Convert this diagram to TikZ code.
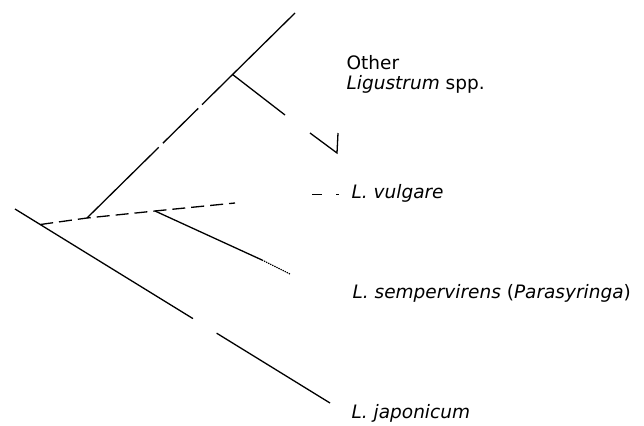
\documentclass[tikz,border=0pt]{standalone}
\usepackage{fontspec}
\setmainfont{DejaVu Sans}
\usetikzlibrary{calc}

\begin{document}
\begin{tikzpicture}[x=1pt,y=-1pt,line width=1.3pt,
    taxon/.style={anchor=west,inner sep=0pt,font=\fontsize{18.5}{21}\selectfont}]
  \useasboundingbox (0,0) rectangle (644,425);
  % branch points
  \coordinate (root) at (15,209);
  \coordinate (japend) at (330,403);
  \coordinate (rj) at ($(root)!0.08!(japend)$);
  \coordinate (A) at (87,218);
  \coordinate (B) at (155,211);
  \coordinate (top) at (295,13);
  \coordinate (lig) at ($(A)!0.70!(top)$);
  % stem to L. japonicum (broken in the middle)
  \draw (root) -- ($(root)!0.565!(japend)$);
  \draw ($(root)!0.64!(japend)$) -- (japend);
  % dashed stem
  \draw[dash pattern=on 13pt off 6pt] (rj) -- (A) -- (B) -- (235,203);
  % clade of other Ligustrum
  \draw (A) -- ($(A)!0.345!(top)$);
  \draw ($(A)!0.365!(top)$) -- ($(A)!0.535!(top)$);
  \draw ($(A)!0.553!(top)$) -- (top);
  \draw (lig) -- (285,115);
  \draw (310,133) -- (337,153) -- (338,133);
  % L. sempervirens
  \draw (B) -- (262,260);
  \draw[densely dotted] (262,260) -- (290,274);
  % labels
  \node[taxon] (other) at (346,63) {Other};
  \node[taxon] (ligu) at (346,84) {\textit{Ligustrum} spp.};
  \draw[line width=1pt,dash pattern=on 10pt off 14pt on 3pt off 20pt] (312,194) -- (340,194);
  \node[taxon] (vulg) at (351,193) {\textit{L. vulgare}};
  \node[taxon] (semp) at (352,293) {\textit{L. sempervirens} (\textit{Parasyringa})};
  \node[taxon] (japo) at (351,413) {\textit{L. japonicum}};
\end{tikzpicture}
\end{document}
